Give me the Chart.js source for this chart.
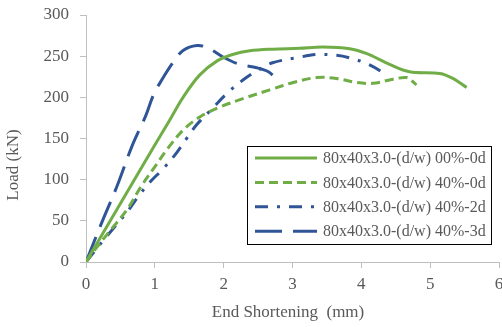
<!DOCTYPE html>
<html>
<head>
<meta charset="utf-8">
<script src="https://cdn.jsdelivr.net/npm/chart.js@4.4.1/dist/chart.umd.min.js"></script>
<style>
  html, body { margin: 0; padding: 0; background: #fff; overflow: hidden; }
  #chart-wrap { width: 502px; height: 327px; position: relative; }
</style>
</head>
<body>
<div id="chart-wrap"><canvas id="myChart" width="502" height="327"></canvas></div>
<script>
// series names (legend)
var seriesNames = [
  "80x40x3.0-(d/w) 00%-0d",
  "80x40x3.0-(d/w) 40%-0d",
  "80x40x3.0-(d/w) 40%-2d",
  "80x40x3.0-(d/w) 40%-3d"
];

// end shortening (mm) / load (kN)
var shortening00_0d = [0, 0.5, 1.0, 1.2, 1.41, 1.65, 1.9, 2.13, 2.38, 2.71, 3.1, 3.44, 3.83, 4.08, 4.41, 4.7, 5.14, 5.33, 5.53];
var load00_0d       = [0, 71, 142, 170, 200, 227, 244, 252, 256.5, 258.5, 259.5, 261, 259, 253, 240, 231, 229, 223, 212];

var shortening40_0d = [0, 0.12, 0.36, 0.6, 0.81, 1.02, 1.17, 1.42, 1.67, 1.94, 2.3, 2.67, 3.01, 3.35, 3.64, 3.93, 4.17, 4.46, 4.66, 4.75, 4.8];
var load40_0d       = [0, 14, 39, 64, 93, 118, 136, 161, 177, 188, 199, 209, 218, 224, 223, 218, 217, 222, 224, 219, 215];

var shortening40_2d = [0, 0.22, 0.44, 0.6, 0.77, 0.94, 1.13, 1.31, 1.47, 1.61, 1.83, 2.05, 2.28, 2.5, 2.71, 3.06, 3.35, 3.64, 3.83, 4.05, 4.2, 4.38];
var load40_2d       = [0, 23, 45, 61, 81, 98, 114, 132, 151, 167, 186, 205, 221, 233, 242, 248, 252, 251, 248, 242, 236, 226];

var shortening40_3d = [0, 0.22, 0.45, 0.67, 0.87, 0.98, 1.1, 1.27, 1.41, 1.61, 1.77, 1.99, 2.23, 2.48, 2.65, 2.77];
var load40_3d       = [0, 46, 92, 141, 178, 203, 221, 243, 257, 263, 260, 249, 240, 236, 231, 222];

var xTitle = "End Shortening  (mm)";
var yTitle = "Load (kN)";

(function(Window) {
  var App = {
    htmlElements: {
      canvas: document.getElementById("myChart")
    },
    font: "'Liberation Serif', 'Times New Roman', serif",
    green: "#70ad47",
    blue: "#2f5597",

    points: function(xs, ys) {
      return xs.map(function(x, i) { return { x: x, y: ys[i] }; });
    },

    // legend box + axis titles drawn by hand, Excel-like
    extras: {
      id: "extras",
      afterDraw: function(chart) {
        var ctx = chart.ctx;
        ctx.save();
        ctx.fillStyle = "#595959";
        ctx.font = "17px " + App.font;
        ctx.textAlign = "center";
        ctx.textBaseline = "middle";
        ctx.fillText(xTitle, 288, 313);
        ctx.translate(14, 165);
        ctx.rotate(-Math.PI / 2);
        ctx.fillText(yTitle, 0, 0);
        ctx.restore();

        // legend
        var box = { left: 247, top: 146, right: 491, bottom: 244 };
        ctx.save();
        ctx.fillStyle = "#fff";
        ctx.fillRect(box.left, box.top, box.right - box.left, box.bottom - box.top);
        ctx.strokeStyle = "#000";
        ctx.lineWidth = 1;
        ctx.strokeRect(box.left + 0.5, box.top + 0.5, box.right - box.left, box.bottom - box.top);
        chart.data.datasets.forEach(function(ds, i) {
          var y = 158 + i * 24.4;
          ctx.beginPath();
          ctx.setLineDash(ds.borderDash || []);
          ctx.strokeStyle = ds.borderColor;
          ctx.lineWidth = ds.borderWidth;
          ctx.moveTo(255, y);
          ctx.lineTo(317, y);
          ctx.stroke();
          ctx.setLineDash([]);
          ctx.fillStyle = "#595959";
          ctx.font = "16px " + App.font;
          ctx.textAlign = "left";
          ctx.textBaseline = "middle";
          ctx.fillText(ds.label, 323, y + 1);
        });
        ctx.restore();
      }
    },

    graph: function() {
      var line = function(label, xs, ys, color, dash) {
        return {
          label: label,
          data: App.points(xs, ys),
          borderColor: color,
          backgroundColor: color,
          borderWidth: 3,
          borderDash: dash,
          borderCapStyle: "butt",
          pointRadius: 0,
          fill: false,
          tension: 0.35
        };
      };
      var axisGrid = { display: true, drawOnChartArea: false, drawTicks: true, tickLength: 6, color: "#bfbfbf" };

      new Chart(App.htmlElements.canvas, {
        type: "line",
        data: {
          datasets: [
            line(seriesNames[0], shortening00_0d, load00_0d, App.green, []),
            line(seriesNames[1], shortening40_0d, load40_0d, App.green, [9, 5]),
            line(seriesNames[2], shortening40_2d, load40_2d, App.blue, [13, 9, 3, 9]),
            line(seriesNames[3], shortening40_3d, load40_3d, App.blue, [27, 11])
          ]
        },
        options: {
          responsive: false,
          animation: false,
          devicePixelRatio: 1,
          layout: { padding: { top: 15, right: 3, left: 0, bottom: 0 } },
          plugins: { legend: { display: false }, tooltip: { enabled: false } },
          scales: {
            x: {
              type: "linear",
              min: 0, max: 6,
              ticks: { stepSize: 1, color: "#595959", font: { family: App.font, size: 17 }, padding: 6, maxRotation: 0 },
              grid: axisGrid,
              border: { color: "#bfbfbf" },
              afterFit: function(s) { s.height = 65; s.paddingLeft = 0; s.paddingRight = 0; }
            },
            y: {
              min: 0, max: 300,
              ticks: { stepSize: 50, color: "#595959", font: { family: App.font, size: 17 }, padding: 11 },
              grid: axisGrid,
              border: { color: "#bfbfbf" },
              afterFit: function(s) { s.width = 86; s.paddingTop = 0; s.paddingBottom = 0; }
            }
          }
        },
        plugins: [App.extras]
      });
    },

    init: function() {
      App.graph();
    }
  };
  Window.App = App;
})(window);

App.init();
</script>
</body>
</html>
